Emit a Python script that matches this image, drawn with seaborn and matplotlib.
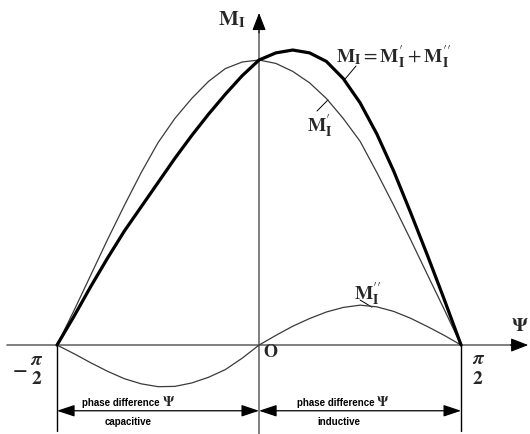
import numpy as np
import pandas as pd
import matplotlib
matplotlib.use("Agg")
import matplotlib.pyplot as plt
import seaborn as sns

# phase difference psi (degrees) and the three torque components (M'_I(0) = 100)
psi_deg = [-90, -82.5, -75, -67.5, -60, -52.5, -45, -37.5, -30, -22.5, -15, -7.5,
           0, 7.5, 15, 22.5, 30, 37.5, 45, 52.5, 60, 67.5, 75, 82.5, 90]
m_prime = [0, 12, 24.5, 37, 49, 60.5, 71, 79.5, 86.5, 92.5, 97, 99.3,
           100, 98.8, 96, 92, 86.5, 79.5, 71.5, 60.5, 49, 37, 24.7, 12.5, 0]
m_double = [0, -3, -6.2, -9.2, -11.8, -13.6, -14.6, -14.5, -13.3, -11.3, -8.6, -4.6,
            0, 3.4, 6.6, 9.3, 11.6, 13.2, 14, 13.4, 11.8, 9.4, 6.5, 3.4, 0]
m_total = [0, 10, 20.5, 30.5, 40, 48.5, 57, 65.5, 73.5, 81, 88, 94.5,
           100, 102.5, 103.5, 102.5, 99.5, 93.5, 85, 74, 61, 46.5, 31.5, 16, 0]

df = pd.DataFrame({"psi": psi_deg, "Mp": m_prime, "Mpp": m_double, "M": m_total})

sns.set_theme(style="white")
plt.rcParams["mathtext.fontset"] = "stix"

fig = plt.figure(figsize=(5.30, 4.34), dpi=100)
ax = fig.add_axes([0, 0, 1, 1])

axis_col = "#6a6a6a"
thin_col = "#3a3a3a"

# coordinate axes
ax.plot([-112.3, 114], [0, 0], color=axis_col, lw=1.2, zorder=1)
ax.plot([0, 0], [-31.2, 110], color=axis_col, lw=1.2, zorder=1)
head = dict(arrowstyle="-|>,head_length=0.9,head_width=0.35",
            color="black", lw=0.8, shrinkA=0, shrinkB=0)
ax.annotate("", xy=(119.9, 0), xytext=(112.0, 0), arrowprops=head)
ax.annotate("", xy=(0, 116.5), xytext=(0, 109.5), arrowprops=head)

# curves
sns.lineplot(data=df, x="psi", y="Mp", ax=ax, color=thin_col, lw=0.9,
             sort=False, zorder=3)
sns.lineplot(data=df, x="psi", y="Mpp", ax=ax, color=thin_col, lw=0.9,
             sort=False, zorder=3)
sns.lineplot(data=df, x="psi", y="M", ax=ax, color="black", lw=2.3,
             sort=False, zorder=4)
ax.set_xlim(-115.4, 120.7)
ax.set_ylim(-31.2, 121.05)
ax.set_axis_off()

# dimension lines below the axis
for xv in (-90, 90):
    ax.plot([xv, xv], [0, -30.2], color="black", lw=1.0, zorder=2)
dim_y = -23.05
dim = dict(arrowstyle="<|-|>,head_length=0.9,head_width=0.3",
           color="black", lw=0.9, shrinkA=0, shrinkB=0)
for a, b in ((-90, 0), (0, 90)):
    ax.annotate("", xy=(b, dim_y), xytext=(a, dim_y), arrowprops=dim)

word_font = dict(family=["Liberation Sans Narrow", "Liberation Sans"],
                 fontsize=7, fontweight="bold", color="black", va="center")
ax.text(-44.1, -20.4, "phase difference", ha="right", **word_font)
ax.text(-58.4, -27.0, "capacitive", ha="center", **word_font)
ax.text(51.7, -20.4, "phase difference", ha="right", **word_font)
ax.text(35.6, -27.0, "inductive", ha="center", **word_font)
ax.text(-40.3, -20.0, r"$\mathbf{\Psi}$", fontsize=10, ha="center", va="center")
ax.text(55.0, -20.0, r"$\mathbf{\Psi}$", fontsize=10, ha="center", va="center")

# labels
ax.text(-12.0, 114.0, r"$\mathbf{M}_{\mathbf{I}}$", fontsize=15,
        ha="center", va="center")
ax.text(34.3, 100.8,
        r"$\mathbf{M}_{\mathbf{I}}=\mathbf{M}_{\mathbf{I}}^{\prime}+\mathbf{M}_{\mathbf{I}}^{\prime\prime}$",
        fontsize=14, ha="left", va="center")
ax.text(27.2, 76.8, r"$\mathbf{M}_{\mathbf{I}}^{\prime}$", fontsize=14,
        ha="center", va="center")
ax.text(48.6, 18.0, r"$\mathbf{M}_{\mathbf{I}}^{\prime\prime}$", fontsize=14,
        ha="center", va="center")
ax.text(120.2, 6.9, r"$\mathbf{\Psi}$", fontsize=14, ha="right", va="center")

frac = dict(fontsize=14, ha="center", va="center")
ax.text(-106.5, -8.1, r"$\mathbf{-}$", **frac)
ax.text(-98.9, -4.9, r"$\boldsymbol{\pi}$", **frac)
ax.text(-98.9, -11.6, r"$\mathbf{2}$", **frac)
ax.text(97.6, -4.6, r"$\boldsymbol{\pi}$", **frac)
ax.text(97.6, -11.6, r"$\mathbf{2}$", **frac)
ax.text(5.3, -2.5, r"$\mathbf{O}$", fontsize=13, ha="center", va="center")

# leader lines
ax.plot([38.3, 43.2], [93.3, 97.9], color="black", lw=0.7)
ax.plot([25.8, 30.7], [82.1, 86.0], color="black", lw=0.7)
ax.plot([45.0, 50.3], [15.8, 13.3], color="black", lw=0.7)

fig.savefig("out.png", dpi=100, facecolor="white")
